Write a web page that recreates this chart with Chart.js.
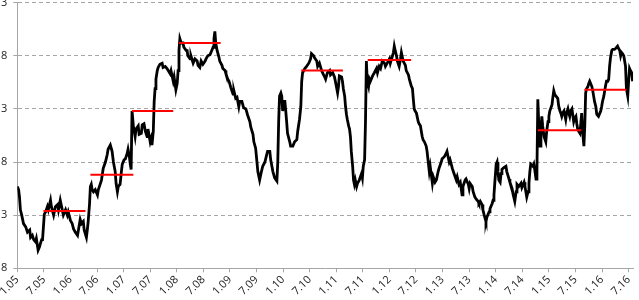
<!DOCTYPE html>
<html>
<head>
<meta charset="utf-8">
<script src="https://cdn.jsdelivr.net/npm/chart.js@4.4.1/dist/chart.umd.min.js"></script>
<style>
    body { margin: 0; background: #fff; }
    #wrap { position: relative; width: 639px; height: 300px; overflow: hidden; }
    #chart { position: absolute; left: -5px; top: -10px; }
</style>
</head>
<body>
<div id="wrap"><canvas id="chart" width="644" height="309"></canvas></div>
<script>
// months since Jan 2005
let months = [
    0.0,0.3,0.5,0.7,1.0,1.4,1.9,2.3,2.8,3.0,3.4,3.7,4.1,4.3,4.7,5.0,5.2,5.5,5.7,5.9,
    6.1,6.4,6.8,7.0,7.5,7.7,8.2,8.6,9.1,9.3,9.7,10.0,10.4,10.9,11.3,11.5,12.0,12.4,12.7,13.1,
    13.6,13.8,14.2,14.5,14.9,15.1,15.6,15.8,16.0,16.3,16.5,16.7,16.9,17.2,17.6,18.1,18.3,18.7,19.0,19.4,
    19.9,20.3,20.5,21.0,21.4,21.7,22.1,22.3,22.6,22.8,23.2,23.5,23.7,24.1,24.4,24.8,25.0,25.3,25.5,25.7,
    25.9,26.2,26.6,26.8,27.3,27.5,28.0,28.2,28.6,28.9,29.3,29.5,30.0,30.2,30.4,30.7,30.9,31.1,31.3,31.6,
    31.8,32.2,32.7,32.9,33.4,33.8,34.5,34.7,35.2,35.4,35.8,36.1,36.3,36.5,36.7,37.0,37.4,37.6,38.1,38.3,
    38.5,39.0,39.2,39.7,40.1,40.6,40.8,41.2,41.5,41.9,42.4,42.6,43.0,43.5,43.9,44.2,44.4,44.6,44.8,45.1,
    45.5,45.7,46.2,46.4,46.9,47.1,47.5,47.8,48.2,48.7,48.9,49.3,49.6,50.0,50.2,50.7,51.1,51.6,52.0,52.5,
    52.7,53.2,53.4,53.8,54.1,54.3,54.7,55.0,55.4,55.9,56.3,56.5,57.0,57.2,57.7,58.1,58.6,58.8,59.0,59.2,
    59.5,59.7,59.9,60.1,60.4,60.6,60.8,61.0,61.5,61.7,62.2,62.6,63.1,63.3,63.7,64.0,64.2,64.4,64.9,65.3,
    65.8,66.2,66.4,66.9,67.1,67.6,67.8,68.2,68.7,68.9,69.4,69.6,70.0,70.5,70.7,71.2,71.6,71.8,72.3,72.5,
    72.7,73.2,73.4,73.6,73.9,74.1,74.3,74.5,74.8,75.0,75.2,75.4,75.7,75.9,76.1,76.3,76.6,76.8,77.2,77.7,
    77.9,78.1,78.4,78.6,78.8,79.0,79.3,79.5,79.7,80.2,80.6,81.1,81.3,81.7,82.0,82.4,82.9,83.1,83.5,84.0,
    84.2,84.7,84.9,85.1,85.3,85.6,85.8,86.2,86.5,86.7,86.9,87.1,87.6,87.8,88.3,88.5,88.9,89.2,89.4,89.6,
    89.8,90.1,90.3,90.5,90.7,91.0,91.2,91.4,91.6,91.9,92.3,92.5,93.0,93.2,93.7,93.9,94.3,94.6,95.0,95.2,
    95.7,95.9,96.4,96.8,97.0,97.5,97.7,98.2,98.6,99.1,99.3,99.7,100.0,100.4,100.6,101.1,101.3,101.8,102.0,102.2,
    102.7,102.9,103.3,103.6,104.0,104.2,104.5,104.9,105.1,105.4,105.6,105.8,106.0,106.5,106.7,107.2,107.4,107.6,107.8,108.1,
    108.3,108.5,108.7,109.0,109.2,109.4,109.9,110.3,110.5,111.0,111.2,111.7,111.9,112.3,112.6,112.8,113.2,113.7,113.9,114.4,
    114.6,115.0,115.3,115.5,115.7,115.9,116.4,116.6,116.8,117.1,117.3,117.5,117.7,118.0,118.2,118.4,118.6,118.9,119.3,119.5,
    119.8,120.0,120.2,120.7,120.9,121.1,121.3,121.6,122.0,122.2,122.5,122.7,122.9,123.1,123.4,123.6,123.8,124.0,124.3,124.5,
    124.7,124.9,125.2,125.4,125.6,125.8,126.1,126.3,126.5,126.7,127.0,127.2,127.4,127.6,127.9,128.1,128.3,128.5,128.8,129.0,
    129.2,129.4,129.7,129.9,130.1,130.3,130.6,130.8,131.0,131.2,131.5,131.7,131.9,132.1,132.4,132.6,132.8,133.0,133.3,133.5,
    133.7,133.9,134.2,134.4,134.6,134.8,135.1,135.3,135.5,135.7,136.0,136.2,136.4,136.6,136.9,137.1,137.3,137.5,137.8,138.0,
    138.2,138.4,138.7,138.9
];

let values = [
    15.7,15.4,14.7,13.5,13.0,12.2,11.9,11.4,11.6,10.9,11.1,10.7,10.5,10.8,9.7,10.0,10.3,10.7,10.7,11.9,
    13.1,13.3,13.8,13.5,14.4,13.8,13.0,13.8,14.0,13.5,14.4,13.8,13.0,13.5,13.0,13.3,12.5,12.2,11.7,11.4,
    11.1,11.6,12.6,12.2,12.4,11.6,10.9,11.6,12.4,14.0,15.7,15.9,15.4,15.2,15.4,14.9,15.4,15.9,16.3,17.4,
    18.0,18.7,19.2,19.6,19.0,18.0,17.1,16.0,15.2,15.7,15.9,17.1,17.8,18.2,18.3,18.8,19.2,18.5,17.8,17.3,
    22.8,21.4,20.4,21.1,21.4,20.6,20.7,21.5,21.6,20.9,20.4,21.1,19.9,20.2,19.6,20.9,23.7,24.9,25.8,26.6,
    26.9,27.2,27.3,26.9,27.0,26.8,26.3,26.6,25.6,26.0,24.8,25.4,26.6,28.5,29.6,29.2,29.2,28.8,28.5,28.6,
    28.0,27.7,28.0,27.3,27.7,27.5,27.1,26.9,27.5,27.2,27.5,27.7,28.0,28.1,28.5,28.8,29.6,30.3,29.2,28.5,
    27.9,27.5,27.1,26.8,26.6,26.3,25.8,25.6,25.0,24.4,24.7,24.0,24.1,23.2,23.7,23.7,23.1,23.0,22.4,21.8,
    21.3,20.6,19.9,19.3,18.0,17.1,16.3,16.9,17.6,18.0,18.7,19.0,19.0,18.2,17.1,16.5,16.2,18.0,21.8,24.2,
    24.5,24.2,22.8,23.7,23.7,22.8,21.8,20.7,19.9,19.5,19.5,19.9,20.1,20.9,22.0,23.2,25.6,26.4,26.8,27.0,
    27.3,27.7,28.2,28.0,27.8,27.5,27.0,27.3,26.6,26.4,26.0,25.8,26.4,26.6,26.2,26.4,26.0,25.6,24.5,25.1,
    26.1,26.0,25.6,24.9,24.2,23.2,22.5,22.0,21.4,21.1,20.4,19.0,17.6,16.3,15.9,16.3,15.7,16.0,16.3,16.9,
    16.5,17.6,18.2,21.8,27.5,25.6,25.1,25.8,25.6,26.1,26.4,26.8,26.4,27.0,26.8,27.5,27.3,27.0,27.3,27.7,
    27.3,28.0,28.3,28.9,28.5,28.0,27.5,27.0,27.7,28.3,27.9,27.5,27.1,26.6,26.2,25.8,25.2,24.9,23.9,23.0,
    22.8,22.6,22.2,21.8,21.6,21.4,20.9,20.4,20.1,19.9,19.5,19.0,17.1,17.6,16.0,16.6,16.1,16.3,17.1,17.4,
    18.0,18.3,18.5,18.8,19.0,18.0,18.2,17.4,16.9,16.3,16.6,15.9,16.1,14.9,15.7,16.3,16.4,15.9,15.5,16.0,
    15.7,15.2,14.7,14.5,14.3,14.1,14.3,14.0,13.5,13.0,12.7,12.4,12.8,13.3,13.6,14.1,14.4,14.9,16.1,17.8,
    18.0,17.1,16.3,16.1,16.9,17.3,17.5,17.6,17.1,16.4,16.1,15.5,15.0,14.3,15.2,15.9,15.7,16.0,15.6,16.1,
    15.7,14.7,15.2,16.0,17.1,17.8,17.6,17.8,17.3,16.4,17.1,23.9,21.8,19.5,20.9,22.3,21.4,20.4,19.9,20.9,
    21.8,22.3,22.8,23.4,24.1,24.7,24.4,24.2,24.0,23.3,22.8,22.6,22.3,22.6,22.8,22.4,22.0,22.6,23.0,22.6,
    22.3,22.8,23.0,22.4,21.8,22.1,22.3,21.6,21.1,20.9,20.7,21.6,22.6,20.9,19.5,21.4,24.5,24.9,25.1,25.4,
    25.6,25.4,25.1,24.7,24.2,23.7,23.2,22.5,22.4,22.3,22.6,22.8,23.2,23.7,24.2,24.7,25.2,25.6,25.6,25.8,
    27.0,27.8,28.5,28.6,28.6,28.6,28.7,28.8,28.9,28.7,28.5,28.0,28.3,28.2,28.0,27.5,27.0,24.9,24.2,25.6,
    26.8,26.6,26.4,25.6
];

// red period levels
let segStart = [5.9, 16.5, 25.9, 36.5, 64.1, 79.1, 117.5, 128.0];
let segEnd   = [15.4, 26.2, 35.2, 45.9, 73.5, 88.9, 127.3, 137.5];
let segLevel = [13.4, 16.8, 22.8, 29.2, 26.6, 27.6, 21.0, 24.8];

let xTickLabels = ['1.05','7.05','1.06','7.06','1.07','7.07','1.08','7.08','1.09','7.09','1.10','7.10',
    '1.11','7.11','1.12','7.12','1.13','7.13','1.14','7.14','1.15','7.15','1.16','7.16'];
let yTicks = [8, 13, 18, 23, 28, 33];

let gray = '#a6a6a6';

let datasets = [];

for (let i = 0; i < segLevel.length; i++) {
    datasets.push({
        data: [{x: segStart[i], y: segLevel[i]}, {x: segEnd[i], y: segLevel[i]}],
        borderColor: '#ff0000',
        borderWidth: 2,
        pointRadius: 0,
        order: 0
    });
}

datasets.push({
    data: months.map((m, i) => ({x: m, y: values[i]})),
    borderColor: '#000000',
    borderWidth: 2.8,
    pointRadius: 0,
    tension: 0,
    order: 1
});

let ctx = document.getElementById('chart').getContext('2d');

let chart = new Chart(ctx, {
    type: 'line',
    data: { datasets: datasets },
    options: {
        responsive: false,
        animation: false,
        events: [],
        layout: { padding: { left: 0, right: 4, top: 0, bottom: 0 } },
        plugins: { legend: { display: false }, tooltip: { enabled: false } },
        scales: {
            x: {
                type: 'linear',
                min: 0,
                max: 139,
                afterBuildTicks: (scale) => {
                    scale.ticks = xTickLabels.map((_, i) => ({ value: i * 6 }));
                },
                ticks: {
                    autoSkip: false,
                    maxRotation: 45,
                    minRotation: 45,
                    padding: 1,
                    color: '#222',
                    font: { family: 'Open Sans', size: 11 },
                    callback: (v) => xTickLabels[Math.round(v / 6)]
                },
                grid: { drawOnChartArea: false, drawTicks: true, tickLength: 4, color: gray },
                border: { display: true, color: gray, width: 1 }
            },
            y: {
                min: yTicks[0],
                max: yTicks[yTicks.length - 1],
                afterBuildTicks: (scale) => {
                    scale.ticks = yTicks.map(v => ({ value: v }));
                },
                ticks: {
                    padding: 6,
                    color: '#222',
                    font: { family: 'Open Sans', size: 11 },
                    callback: (v) => String(v).slice(-1)
                },
                grid: { color: gray, tickLength: 4 },
                // dashed grid lines, solid axis line
                border: { display: true, color: gray, width: 1, dash: (c) => c.type === 'tick' ? [4, 3] : [] }
            }
        }
    }
});
</script>
</body>
</html>
